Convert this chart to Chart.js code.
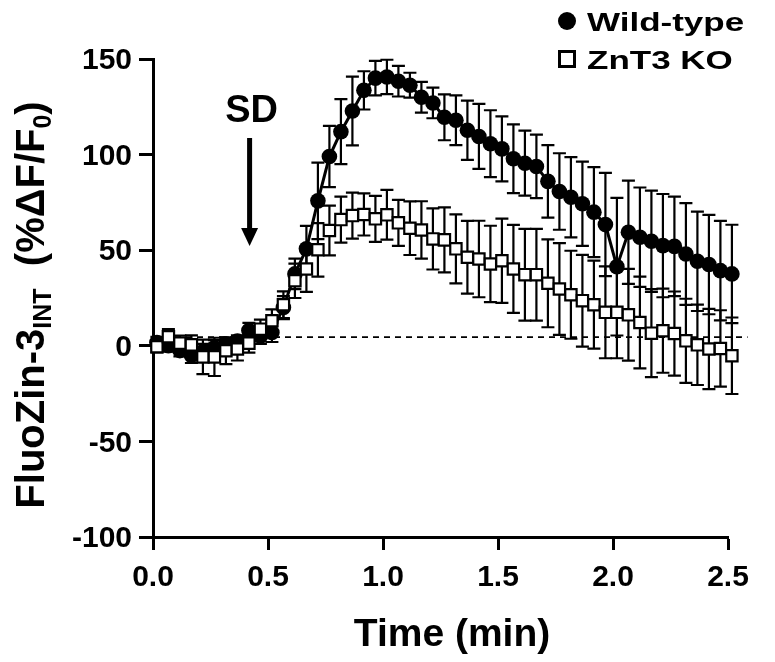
<!DOCTYPE html>
<html>
<head>
<meta charset="utf-8">
<title>FluoZin-3 during SD</title>
<script src="https://cdn.jsdelivr.net/npm/chart.js@4.4.1/dist/chart.umd.min.js"></script>
<style>
  html, body { margin: 0; padding: 0; background: #fff; }
  #wrap { width: 775px; height: 662px; }
</style>
</head>
<body>
<div id="wrap"><canvas id="fluoChart" width="775" height="662"></canvas></div>
<script>
// time of each sample (min)
const timeMin = [
  0.017, 0.067, 0.117, 0.167, 0.217, 0.267, 0.317, 0.367, 0.417, 0.467,
  0.517, 0.567, 0.617, 0.667, 0.717, 0.767, 0.817, 0.867, 0.917, 0.967,
  1.017, 1.067, 1.117, 1.167, 1.217, 1.267, 1.317, 1.367, 1.417, 1.467,
  1.517, 1.567, 1.617, 1.667, 1.717, 1.767, 1.817, 1.867, 1.917, 1.967,
  2.017, 2.067, 2.117, 2.167, 2.217, 2.267, 2.317, 2.367, 2.417, 2.467,
  2.517
];
const wildType = [
  1.7, 0, -2.5, -5, -3, -1, 1, 2.5, 8, 5,
  7, 20, 37.6, 50.7, 75.8, 99, 112, 122.8, 133.6, 140,
  140.6, 138.4, 136.3, 130, 127, 119.5, 118, 112.7, 109.5, 105.7,
  103, 97.8, 95.5, 93.8, 86, 80.7, 77.7, 74.3, 69.9, 63.4,
  41.4, 59.4, 56.8, 54.7, 52.4, 52, 48, 44.2, 42.5, 39.3,
  37.6
];
const wildTypeErr = [
  3, 3, 3, 4, 4, 4, 3, 3, 4, 4,
  5, 6, 8, 12, 20, 16, 17, 18, 10, 9,
  9, 8, 6.5, 8, 8, 12, 13, 15.5, 17, 17.5,
  17, 18, 17, 16.6, 19, 20, 21, 22, 23.5, 27,
  36, 27, 26, 26.5, 27, 26, 26.6, 26, 26, 26,
  25.7
];
const znt3Ko = [
  -0.5, 4.7, 1.4, 0.5, -5.8, -5.8, -2.6, -1.7, 1.4, 8.7,
  13.1, 21.5, 34, 40.2, 50.2, 60.3, 66, 68.1, 68.7, 66.4,
  68.5, 64.3, 61.5, 60.6, 55.9, 55.4, 50.7, 46.3, 45.4, 42.8,
  44.5, 40.2, 37.2, 37.2, 32.7, 29.7, 26.7, 23.6, 21.5, 17.5,
  17.5, 16.2, 12.2, 6.6, 7.9, 6.4, 2.6, 0.5, -1.7, -1.4,
  -5.2
];
const znt3KoErr = [
  3, 4, 4, 5, 9, 10, 7, 6, 5, 5,
  6, 7, 9, 12, 14, 13, 12, 12, 11, 12,
  13, 12, 14, 15, 16, 17, 18, 19, 20, 20,
  22, 23, 24, 24, 23, 24, 23, 24, 23, 24,
  24, 24, 24, 23, 22, 22, 22, 21, 21, 20,
  20
];
const xTicks = [0, 0.5, 1.0, 1.5, 2.0, 2.5];
const yTicks = [-100, -50, 0, 50, 100, 150];
const baselineLevel = 4.5;      // dashed reference line
const baselineEnd = 2.585;
const sdTime = 0.42;            // SD arrow

const FONT = "'Liberation Sans', Arial, Helvetica, sans-serif";

function toPoints(ys) {
    return ys.map((v, i) => ({ x: timeMin[i], y: v }));
}

// error bars drawn just before each dataset, so the symbols sit on top
const errorBars = {
    id: 'errorBars',
    beforeDatasetDraw(chart, args) {
        const ds = chart.data.datasets[args.index];
        if (!ds.errors) return;
        const { ctx, scales: { x, y } } = chart;
        ctx.save();
        ctx.strokeStyle = '#000';
        ctx.lineWidth = 2.2;
        ds.data.forEach((p, i) => {
            const e = ds.errors[i];
            const px = x.getPixelForValue(p.x);
            const top = y.getPixelForValue(p.y + e);
            const bot = y.getPixelForValue(p.y - e);
            ctx.beginPath();
            ctx.moveTo(px, top); ctx.lineTo(px, bot);
            ctx.moveTo(px - 6.5, top); ctx.lineTo(px + 6.5, top);
            ctx.moveTo(px - 6.5, bot); ctx.lineTo(px + 6.5, bot);
            ctx.stroke();
        });
        ctx.restore();
    }
};

const decorations = {
    id: 'decorations',
    beforeDatasetsDraw(chart) {
        const { ctx, scales: { x, y } } = chart;
        const yy = y.getPixelForValue(baselineLevel);
        ctx.save();
        ctx.strokeStyle = '#000';
        ctx.lineWidth = 1.8;
        ctx.setLineDash([6, 5]);
        ctx.beginPath();
        ctx.moveTo(x.getPixelForValue(0), yy);
        ctx.lineTo(x.getPixelForValue(baselineEnd), yy);
        ctx.stroke();
        ctx.restore();
    },
    afterDraw(chart) {
        const { ctx, scales: { x, y } } = chart;
        ctx.save();
        ctx.fillStyle = '#000';
        ctx.strokeStyle = '#000';

        // SD label + arrow
        const ax = x.getPixelForValue(sdTime);
        ctx.font = `bold 38px ${FONT}`;
        ctx.textAlign = 'center';
        ctx.textBaseline = 'alphabetic';
        ctx.fillText('SD', ax + 2, 122);
        ctx.fillRect(ax - 2.5, 138, 5, 92);
        ctx.beginPath();
        ctx.moveTo(ax - 8.5, 228);
        ctx.lineTo(ax + 8.5, 228);
        ctx.lineTo(ax, 246);
        ctx.closePath();
        ctx.fill();

        // x title
        ctx.font = `bold 39px ${FONT}`;
        ctx.fillText('Time (min)', 452, 646);

        // y title with subscripts, rotated
        const runs = [['FluoZin-3', false], ['INT', true], ['  (%\u0394F/F', false], ['0', true], [')', false]];
        let total = 0;
        runs.forEach(([t, sub]) => {
            ctx.font = `bold ${sub ? 25 : 40}px ${FONT}`;
            total += ctx.measureText(t).width;
        });
        ctx.translate(44, 305);
        ctx.rotate(-Math.PI / 2);
        ctx.textAlign = 'left';
        let cx = -total / 2;
        runs.forEach(([t, sub]) => {
            ctx.font = `bold ${sub ? 25 : 40}px ${FONT}`;
            ctx.fillText(t, cx, sub ? 7 : 0);
            cx += ctx.measureText(t).width;
        });
        ctx.restore();

        // legend (text is wide in the original figure)
        const labels = chart.data.datasets.map(d => d.label);
        ctx.save();
        ctx.fillStyle = '#000';
        ctx.strokeStyle = '#000';
        ctx.beginPath();
        ctx.arc(567, 21, 9, 0, Math.PI * 2);
        ctx.fill();
        ctx.lineWidth = 3;
        ctx.strokeRect(559.5, 51.5, 15, 15);
        ctx.font = `bold 25px ${FONT}`;
        ctx.textAlign = 'left';
        [[labels[0], 30.5], [labels[1], 69]].forEach(([t, base]) => {
            ctx.save();
            ctx.translate(587, base);
            ctx.scale(1.4, 1);
            ctx.fillText(t, 0, 0);
            ctx.restore();
        });
        ctx.restore();
    }
};

const axisStyle = {
    grid: { drawOnChartArea: false, drawTicks: true, tickWidth: 3, tickColor: '#000', color: '#000' },
    border: { display: true, width: 3, color: '#000' }
};

new Chart(document.getElementById('fluoChart'), {
    type: 'line',
    data: {
        datasets: [{
            label: 'Wild-type',
            data: toPoints(wildType),
            errors: wildTypeErr,
            borderColor: '#000',
            borderWidth: 3,
            pointStyle: 'circle',
            pointRadius: 7.8,
            pointBorderWidth: 0,
            pointBackgroundColor: '#000',
            tension: 0,
            clip: false,
            order: 1
        }, {
            label: 'ZnT3 KO',
            data: toPoints(znt3Ko),
            errors: znt3KoErr,
            showLine: false,
            pointStyle: 'rect',
            pointRadius: 8,
            pointBorderWidth: 2.2,
            pointBorderColor: '#000',
            pointBackgroundColor: '#fff',
            clip: false,
            order: 0
        }]
    },
    options: {
        responsive: false,
        animation: false,
        devicePixelRatio: 1,
        layout: { padding: { top: 59, right: 47, left: 0, bottom: 0 } },
        plugins: {
            legend: { display: false },
            tooltip: { enabled: false }
        },
        scales: {
            x: {
                type: 'linear',
                min: 0,
                max: 2.5,
                afterBuildTicks: axis => { axis.ticks = xTicks.map(v => ({ value: v })); },
                afterFit: scale => { scale.height = 125; },
                ticks: {
                    autoSkip: false,
                    maxRotation: 0,
                    padding: 10,
                    color: '#000',
                    font: { family: FONT, size: 30, weight: 'bold' },
                    callback: v => v.toFixed(1)
                },
                grid: { ...axisStyle.grid, tickLength: 13 },
                border: axisStyle.border
            },
            y: {
                type: 'linear',
                min: -100,
                max: 150,
                afterBuildTicks: axis => { axis.ticks = yTicks.map(v => ({ value: v })); },
                afterFit: scale => { scale.width = 153; },
                ticks: {
                    autoSkip: false,
                    padding: 7,
                    labelOffset: 2,
                    color: '#000',
                    font: { family: FONT, size: 30, weight: 'bold' }
                },
                grid: { ...axisStyle.grid, tickLength: 14 },
                border: axisStyle.border
            }
        }
    },
    plugins: [errorBars, decorations]
});
</script>
</body>
</html>
